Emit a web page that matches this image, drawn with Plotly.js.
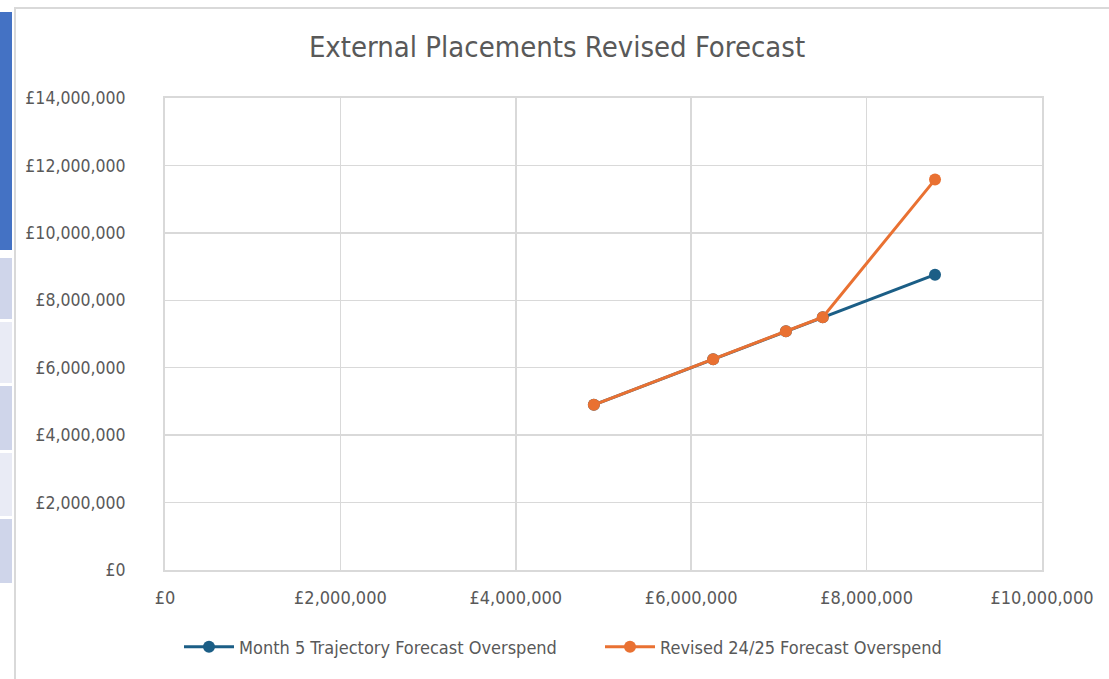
<!DOCTYPE html>
<html>
<head>
<meta charset="utf-8">
<script src="https://cdn.plot.ly/plotly-3.0.1.min.js"></script>
<style>
  html, body { margin: 0; padding: 0; background: #ffffff; }
  #chart { width: 1109px; height: 679px; }
</style>
</head>
<body>
<div id="chart"></div>
<script>
// ---- Data ----
const seriesNames = ["Month 5 Trajectory Forecast Overspend", "Revised 24/25 Forecast Overspend"];
const xValues = [4890000, 6250000, 7080000, 7500000, 8780000];
const month5Values = [4900000, 6250000, 7080000, 7500000, 8760000];
const revisedValues = [4900000, 6250000, 7080000, 7500000, 11580000];
const xTickValues = [0, 2000000, 4000000, 6000000, 8000000, 10000000];
const xTickLabels = ["\u00A30", "\u00A32,000,000", "\u00A34,000,000", "\u00A36,000,000", "\u00A38,000,000", "\u00A310,000,000"];
const yTickValues = [0, 2000000, 4000000, 6000000, 8000000, 10000000, 12000000, 14000000];
const yTickLabels = ["\u00A30", "\u00A32,000,000", "\u00A34,000,000", "\u00A36,000,000", "\u00A38,000,000", "\u00A310,000,000", "\u00A312,000,000", "\u00A314,000,000"];
const chartTitle = "External Placements Revised Forecast";

// ---- Layout helpers ----
const W = 1109, H = 679;
const plotL = 165, plotR = 1042, plotT = 98, plotB = 570;
const pw = plotR - plotL, ph = plotB - plotT;
const px = v => (v - plotL) / pw;
const py = v => (plotB - v) / ph;

const FONT = "'DejaVu Sans Condensed', 'Liberation Sans Narrow', 'Arial Narrow', sans-serif";
const GREY = "#595959";

function rect(x0, y0, x1, y1, fill) {
  return {
    type: "rect", xref: "paper", yref: "paper", layer: "below",
    x0: px(x0), x1: px(x1), y0: py(y1), y1: py(y0),
    fillcolor: fill, line: { width: 0 }
  };
}

const shapes = [
  // decorative strip on the left (part of the screenshot)
  rect(0, 12, 12, 250, "#4472C4"),
  rect(0, 258, 12, 319, "#CFD5EA"),
  rect(0, 322, 12, 383, "#E9EBF5"),
  rect(0, 386, 12, 450, "#CFD5EA"),
  rect(0, 453, 12, 516, "#E9EBF5"),
  rect(0, 519, 12, 583, "#CFD5EA"),
  // chart area border
  { type: "rect", xref: "paper", yref: "paper", layer: "below",
    x0: px(15), x1: px(W + 20), y0: py(H + 20), y1: py(8),
    fillcolor: "rgba(0,0,0,0)", line: { color: "#D9D9D9", width: 2 } }
];

const traces = [
  {
    type: "scatter", mode: "lines+markers", name: seriesNames[0],
    x: xValues, y: month5Values, legend: "legend",
    line: { color: "#1B5E86", width: 3 },
    marker: { color: "#1B5E86", size: 12, symbol: "circle" }
  },
  {
    type: "scatter", mode: "lines+markers", name: seriesNames[1],
    x: xValues, y: revisedValues, legend: "legend2",
    line: { color: "#E97132", width: 3 },
    marker: { color: "#E97132", size: 12, symbol: "circle" }
  }
];

const legendFont = { family: FONT, size: 18, color: GREY };

const layout = {
  width: W, height: H,
  paper_bgcolor: "#ffffff", plot_bgcolor: "#ffffff",
  margin: { l: plotL, r: W - plotR, t: plotT, b: H - plotB, pad: 0 },
  font: { family: FONT, color: GREY, size: 18 },
  title: {
    text: chartTitle,
    font: { family: FONT, size: 29, color: GREY },
    x: 557 / W, xref: "container", xanchor: "center",
    y: 1 - 47 / H, yref: "container", yanchor: "middle"
  },
  xaxis: {
    range: [0, 10000000],
    tickvals: xTickValues, ticktext: xTickLabels,
    showgrid: true, gridcolor: "#D9D9D9", gridwidth: 1.5,
    zeroline: false,
    showline: true, linecolor: "#D9D9D9", linewidth: 2, mirror: true,
    ticks: "", ticklabelstandoff: 10,
    tickfont: { family: FONT, size: 18, color: GREY },
    fixedrange: true
  },
  yaxis: {
    range: [0, 14000000],
    tickvals: yTickValues, ticktext: yTickLabels,
    showgrid: true, gridcolor: "#D9D9D9", gridwidth: 1.5,
    zeroline: false,
    showline: true, linecolor: "#D9D9D9", linewidth: 2, mirror: true,
    ticks: "", ticklabelstandoff: 34,
    tickfont: { family: FONT, size: 17.5, color: GREY },
    fixedrange: true
  },
  showlegend: true,
  legend: {
    orientation: "h",
    x: px(179), xanchor: "left",
    y: py(647), yanchor: "middle",
    itemwidth: 50,
    font: legendFont, bgcolor: "rgba(0,0,0,0)"
  },
  legend2: {
    orientation: "h",
    x: px(600), xanchor: "left",
    y: py(647), yanchor: "middle",
    itemwidth: 50,
    font: legendFont, bgcolor: "rgba(0,0,0,0)"
  },
  shapes: shapes
};

Plotly.newPlot("chart", traces, layout, { displayModeBar: false, staticPlot: true });
</script>
</body>
</html>
